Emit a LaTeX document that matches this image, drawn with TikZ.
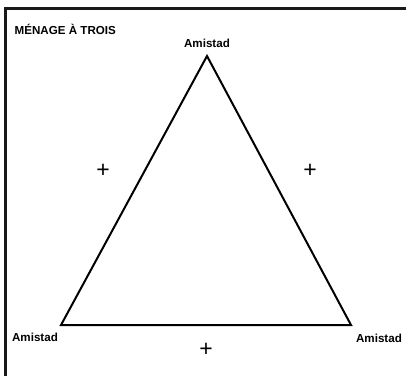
\documentclass[tikz,border=0pt]{standalone}
\usepackage{fontspec}
\setmainfont{Liberation Sans}
\usetikzlibrary{positioning}

\tikzset{
  vertexlabel/.style={font=\bfseries\fontsize{11.6}{13}\selectfont, inner sep=0pt},
  signlabel/.style={font=\fontsize{23}{25}\selectfont, inner sep=0pt},
}

\begin{document}
\begin{tikzpicture}[x=1pt,y=-1pt]
  \useasboundingbox (0,0) rectangle (406,376);
  % frame (only top and left edges are visible)
  \draw[line width=2.2pt,black!90] (406,8.5) -- (5.5,8.5) -- (5.5,376);
  \node[vertexlabel, anchor=west] (title) at (14.5,29) {MÉNAGE À TROIS};
  % corners of the triangle
  \coordinate (top) at (207,56);
  \coordinate (left) at (61,325);
  \coordinate (right) at (351,325);
  \draw[line width=2pt, line join=miter] (top) -- (right) -- (left) -- cycle;
  \node[vertexlabel] (topname) at (207,43) {Amistad};
  \node[vertexlabel] (leftname) at (35,337) {Amistad};
  \node[vertexlabel] (rightname) at (379,338) {Amistad};
  % signs on the sides
  \node[signlabel] (plusleft) at (103,171) {+};
  \node[signlabel] (plusright) at (310,171) {+};
  \node[signlabel] (plusbottom) at (206,350) {+};
\end{tikzpicture}
\end{document}
